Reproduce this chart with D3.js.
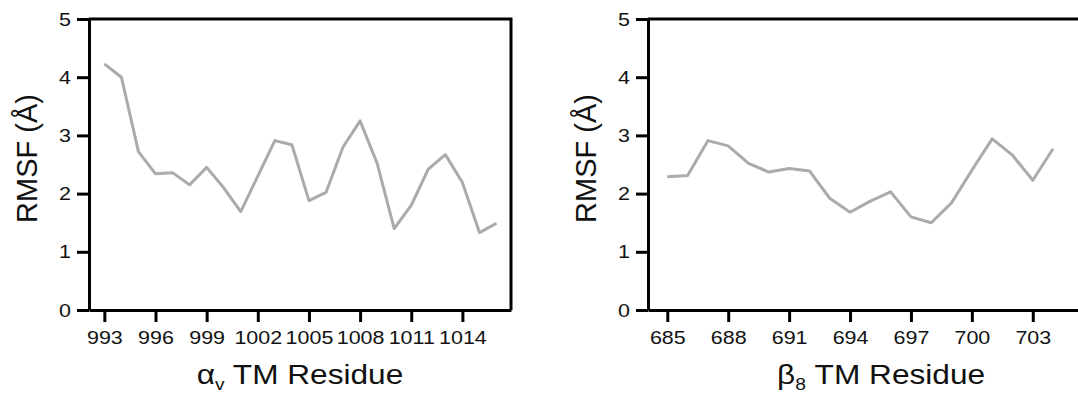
<!DOCTYPE html>
<html>
<head>
<meta charset="utf-8">
<script src="https://cdn.jsdelivr.net/npm/d3@7"></script>
<style>
  body { margin: 0; background: #fff; }
  svg { display: block; }
  text { font-family: "Liberation Sans", Arial, sans-serif; fill: #111; }
</style>
</head>
<body>
<script>
// alpha-v TM residues and their RMSF
const alphaResidues = [993, 994, 995, 996, 997, 998, 999, 1000, 1001, 1002, 1003, 1004,
  1005, 1006, 1007, 1008, 1009, 1010, 1011, 1012, 1013, 1014, 1015, 1016];
const alphaRmsf = [4.23, 4.0, 2.72, 2.34, 2.36, 2.15, 2.45, 2.1, 1.69, 2.3, 2.91, 2.84,
  1.88, 2.02, 2.8, 3.25, 2.52, 1.40, 1.80, 2.42, 2.67, 2.19, 1.33, 1.49];
const alphaTicks = [993, 996, 999, 1002, 1005, 1008, 1011, 1014];

// beta-8 TM residues and their RMSF
const betaResidues = [685, 686, 687, 688, 689, 690, 691, 692, 693, 694, 695, 696,
  697, 698, 699, 700, 701, 702, 703, 704];
const betaRmsf = [2.29, 2.31, 2.91, 2.82, 2.52, 2.37, 2.43, 2.39, 1.92, 1.68, 1.87, 2.03,
  1.60, 1.50, 1.84, 2.40, 2.94, 2.66, 2.23, 2.77];
const betaTicks = [685, 688, 691, 694, 697, 700, 703];

const yTicks = [0, 1, 2, 3, 4, 5];

const W = 1078, H = 394;
const stretch = 1.13;

const svg = d3.select("body").append("svg")
  .attr("width", W)
  .attr("height", H);

function panel(opts) {
  const x = d3.scaleLinear().domain(opts.domain).range([opts.left, opts.right]);
  const y = d3.scaleLinear().domain([0, 5]).range([310, 19]);

  const g = svg.append("g");

  // frame top and right
  g.append("path")
    .attr("d", `M${opts.left},${y(5)}H${opts.right}V${y(0)}`)
    .attr("fill", "none")
    .attr("stroke", "#000")
    .attr("stroke-width", 3);

  const line = d3.line()
    .x((d, i) => x(opts.residues[i]))
    .y(d => y(d));

  g.append("path")
    .datum(opts.values)
    .attr("d", line)
    .attr("fill", "none")
    .attr("stroke", "#ababab")
    .attr("stroke-width", 3)
    .attr("stroke-linejoin", "round");

  const xAxis = g.append("g")
    .attr("transform", `translate(0,${y(0)})`)
    .call(d3.axisBottom(x).tickValues(opts.ticks).tickSize(12).tickSizeOuter(0).tickPadding(9)
      .tickFormat(d3.format("d")));

  const yAxis = g.append("g")
    .attr("transform", `translate(${opts.left},0)`)
    .call(d3.axisLeft(y).tickValues(yTicks).tickSize(12).tickSizeOuter(0).tickPadding(6)
      .tickFormat(d3.format("d")));

  [xAxis, yAxis].forEach(a => {
    a.attr("font-size", null).attr("font-family", null);
    a.select(".domain").attr("stroke", "#000").attr("stroke-width", 3);
    a.selectAll(".tick line").attr("stroke", "#000").attr("stroke-width", 3);
    a.selectAll(".tick text")
      .attr("fill", "#111")
      .style("font-size", "19px");
  });

  xAxis.selectAll(".tick text")
    .attr("transform", `scale(${stretch},1)`);
  yAxis.selectAll(".tick text")
    .attr("x", -18 / stretch)
    .attr("transform", `scale(${stretch},1)`);

  // x title
  const cx = (opts.left + opts.right) / 2;
  const xt = g.append("text")
    .attr("transform", `translate(${cx},384) scale(${stretch},1)`)
    .attr("text-anchor", "middle")
    .style("font-size", "28px");
  xt.append("tspan").text(opts.sym);
  xt.append("tspan").text(opts.sub).style("font-size", "17px").attr("dy", 6);
  xt.append("tspan").text(" TM Residue").attr("dy", -6);

  // y title
  g.append("text")
    .attr("transform", `translate(${opts.left - 52},${(y(0) + y(5)) / 2 - 6}) rotate(-90)`)
    .attr("text-anchor", "middle")
    .style("font-size", "29px")
    .text("RMSF (Å)");
}

panel({
  residues: alphaResidues, values: alphaRmsf, ticks: alphaTicks,
  domain: [992.1, 1016.85], left: 89, right: 511, sym: "α", sub: "v"
});

panel({
  residues: betaResidues, values: betaRmsf, ticks: betaTicks,
  domain: [684.05, 707], left: 648, right: 1114, sym: "β", sub: "8"
});
</script>
</body>
</html>
